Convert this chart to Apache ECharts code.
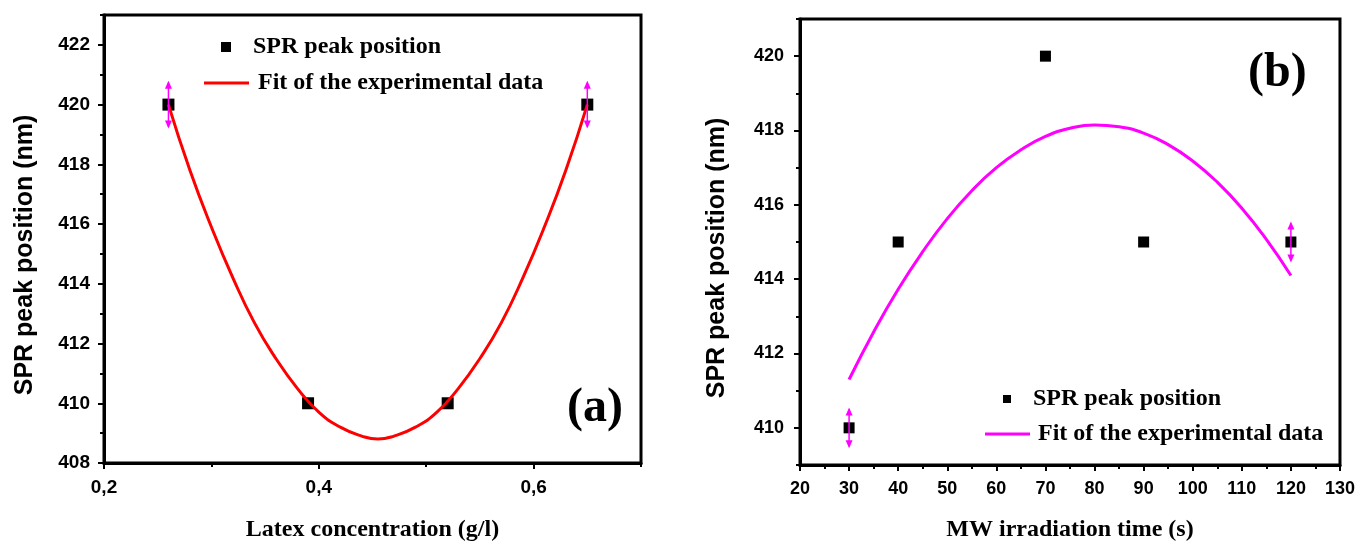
<!DOCTYPE html>
<html>
<head>
<meta charset="utf-8">
<script src="https://cdn.jsdelivr.net/npm/echarts@6/dist/echarts.min.js"></script>
<style>
html,body{margin:0;padding:0;background:#fff;}
#c{width:1358px;height:547px;}
</style>
</head>
<body>
<div id="c"></div>
<script>
// ---- Panel (a): Latex concentration ----
const latexX = [0.26, 0.39, 0.52, 0.65];
const latexY = [420, 410, 410, 420];
const latexErr = [0.8, 0, 0, 0.8];
const latexFitX = [0.26, 0.28, 0.30, 0.32, 0.34, 0.36, 0.38, 0.40, 0.42, 0.44, 0.455, 0.47, 0.49, 0.51, 0.53, 0.55, 0.57, 0.59, 0.61, 0.63, 0.65];
const latexFitY = [420.0, 417.8, 415.9, 414.2, 412.7, 411.5, 410.5, 409.7, 409.2, 408.9, 408.8, 408.9, 409.2, 409.7, 410.5, 411.5, 412.7, 414.2, 415.9, 417.8, 420.0];
const latexXTicks = [0.2, 0.4, 0.6];
const latexXMinor = [0.3, 0.5, 0.7];
const latexYTicks = [408, 410, 412, 414, 416, 418, 420, 422];
const latexYMinor = [409, 411, 413, 415, 417, 419, 421, 423];

// ---- Panel (b): MW irradiation time ----
const mwX = [30, 40, 70, 90, 120];
const mwY = [410, 415, 420, 415, 415];
const mwErr = [0.55, 0, 0, 0, 0.55];
const mwFitX = [30, 35, 40, 45, 50, 55, 60, 65, 70, 75, 80, 85, 90, 95, 100, 105, 110, 115, 120];
const mwFitY = [411.30, 412.58, 413.73, 414.74, 415.63, 416.38, 417.00, 417.48, 417.84, 418.06, 418.15, 418.10, 417.93, 417.62, 417.18, 416.61, 415.91, 415.07, 414.10];
const mwXTicks = [20, 30, 40, 50, 60, 70, 80, 90, 100, 110, 120, 130];
const mwXMinor = [25, 35, 45, 55, 65, 75, 85, 95, 105, 115, 125];
const mwYTicks = [410, 412, 414, 416, 418, 420];
const mwYMinor = [409, 411, 413, 415, 417, 419, 421];

const labelText = ["SPR peak position", "Fit of the experimental data"];
const axisTitles = ["Latex concentration (g/l)", "MW irradiation time (s)", "SPR peak position (nm)"];
const panelTags = ["(a)", "(b)"];

const zip = (a, b) => a.map((v, i) => [v, b[i]]);
const zip3 = (a, b, c) => a.map((v, i) => [v, b[i], c[i]]);

const SANS = 'Liberation Sans';
const SERIF = 'Liberation Serif';

function majorAxis(o) {
  return Object.assign({
    type: 'value',
    axisLine: { show: true, onZero: false, lineStyle: { color: '#000', width: 3 } },
    axisTick: { show: true, inside: false, customValues: o.ticks, length: 6, lineStyle: { color: '#000', width: 2 } },
    axisLabel: { customValues: o.ticks, color: '#000', fontFamily: SANS, fontWeight: 'bold', fontSize: o.fs, margin: o.margin, formatter: o.fmt },
    splitLine: { show: false },
    nameLocation: 'middle'
  }, o.extra);
}
function minorAxis(o) {
  return Object.assign({
    type: 'value',
    axisLine: { show: false, onZero: false },
    axisTick: { show: true, inside: false, customValues: o.ticks, length: 4, lineStyle: { color: '#000', width: 2 } },
    axisLabel: { show: false },
    splitLine: { show: false }
  }, o.extra);
}

function errBarItem(params, api) {
  const x = api.value(0), y = api.value(1), e = api.value(2);
  if (!e) return null;
  const t = api.coord([x, y + e]);
  const b = api.coord([x, y - e]);
  const w = 3.5, h = 8;
  return {
    type: 'group',
    children: [
      { type: 'line', shape: { x1: t[0], y1: t[1] + 2, x2: b[0], y2: b[1] - 2 }, style: { stroke: '#ff00ff', lineWidth: 1.5 } },
      { type: 'polygon', shape: { points: [[t[0], t[1]], [t[0] - w, t[1] + h], [t[0] + w, t[1] + h]] }, style: { fill: '#ff00ff' } },
      { type: 'polygon', shape: { points: [[b[0], b[1]], [b[0] - w, b[1] - h], [b[0] + w, b[1] - h]] }, style: { fill: '#ff00ff' } }
    ]
  };
}

const xTitleStyle = { color: '#000', fontFamily: SERIF, fontWeight: 'bold', fontSize: 24 };
const yTitleStyle = { color: '#000', fontFamily: SANS, fontWeight: 'bold', fontSize: 25, padding: [0, 32, 0, 0] };
const legendText = { color: '#000', fontFamily: SERIF, fontWeight: 'bold', fontSize: 24 };

const chart = echarts.init(document.getElementById('c'), null, { renderer: 'canvas' });
chart.setOption({
  backgroundColor: '#fff',
  animation: false,
  grid: [
    { left: 104, top: 15, width: 537, height: 452, show: true, borderColor: '#000', borderWidth: 3, backgroundColor: 'transparent' },
    { left: 800, top: 19, width: 543, height: 448, show: true, borderColor: '#000', borderWidth: 3, backgroundColor: 'transparent' }
  ],
  xAxis: [
    majorAxis({ ticks: latexXTicks, fs: 19, margin: 15, fmt: v => v.toFixed(1).replace('.', ','),
      extra: { gridIndex: 0, min: 0.2, max: 0.7, position: 'bottom', name: axisTitles[0], nameGap: 55, nameTextStyle: xTitleStyle } }),
    minorAxis({ ticks: latexXMinor, extra: { gridIndex: 0, min: 0.2, max: 0.7, position: 'bottom' } }),
    majorAxis({ ticks: mwXTicks, fs: 18, margin: 15, fmt: v => String(v),
      extra: { gridIndex: 1, min: 20, max: 130, position: 'bottom', name: axisTitles[1], nameGap: 53, nameTextStyle: xTitleStyle } }),
    minorAxis({ ticks: mwXMinor, extra: { gridIndex: 1, min: 20, max: 130, position: 'bottom' } })
  ],
  yAxis: [
    majorAxis({ ticks: latexYTicks, fs: 19, margin: 14, fmt: v => String(v),
      extra: { gridIndex: 0, min: 408, max: 423, position: 'left', name: axisTitles[2], nameGap: 66, nameTextStyle: yTitleStyle } }),
    minorAxis({ ticks: latexYMinor, extra: { gridIndex: 0, min: 408, max: 423, position: 'left' } }),
    majorAxis({ ticks: mwYTicks, fs: 18, margin: 16, fmt: v => String(v),
      extra: { gridIndex: 1, min: 409, max: 421, position: 'left', name: axisTitles[2], nameGap: 70, nameTextStyle: yTitleStyle } }),
    minorAxis({ ticks: mwYMinor, extra: { gridIndex: 1, min: 409, max: 421, position: 'left' } })
  ],
  legend: [
    { data: [{ name: 'ptsA', icon: 'rect' }], formatter: () => labelText[0], left: 221, top: 35, padding: 0, itemWidth: 10, itemHeight: 10, selectedMode: false,
      textStyle: Object.assign({ padding: [0, 0, 0, 17] }, legendText) },
    { data: [{ name: 'fitA', icon: 'rect' }], formatter: () => labelText[1], left: 204, top: 71, padding: 0, itemWidth: 45, itemHeight: 3, selectedMode: false,
      textStyle: Object.assign({ padding: [0, 0, 0, 4] }, legendText) },
    { data: [{ name: 'ptsB', icon: 'rect' }], formatter: () => labelText[0], left: 1003, top: 387, padding: 0, itemWidth: 8, itemHeight: 8, selectedMode: false,
      textStyle: Object.assign({ padding: [0, 0, 0, 17] }, legendText) },
    { data: [{ name: 'fitB', icon: 'rect' }], formatter: () => labelText[1], left: 985, top: 422, padding: 0, itemWidth: 45, itemHeight: 3, selectedMode: false,
      textStyle: Object.assign({ padding: [0, 0, 0, 3] }, legendText) }
  ],
  graphic: [
    { type: 'text', left: 567, top: 385, z: 10, style: { text: panelTags[0], fill: '#000', font: 'bold 48px ' + SERIF } },
    { type: 'text', left: 1248, top: 50, z: 10, style: { text: panelTags[1], fill: '#000', font: 'bold 48px ' + SERIF } }
  ],
  series: [
    { name: 'ptsA', type: 'scatter', xAxisIndex: 0, yAxisIndex: 0, data: zip(latexX, latexY), symbol: 'rect', symbolSize: 12,
      itemStyle: { color: '#000', opacity: 1 }, z: 2 },
    { name: 'fitA', type: 'line', xAxisIndex: 0, yAxisIndex: 0, data: zip(latexFitX, latexFitY), smooth: true, symbol: 'none', showSymbol: false,
      lineStyle: { color: '#ff0000', width: 3 }, itemStyle: { color: '#ff0000' }, z: 3 },
    { name: 'errA', type: 'custom', xAxisIndex: 0, yAxisIndex: 0, data: zip3(latexX, latexY, latexErr), renderItem: errBarItem,
      encode: { x: 0, y: 1 }, z: 4 },
    { name: 'ptsB', type: 'scatter', xAxisIndex: 2, yAxisIndex: 2, data: zip(mwX, mwY), symbol: 'rect', symbolSize: 11,
      itemStyle: { color: '#000', opacity: 1 }, z: 2 },
    { name: 'fitB', type: 'line', xAxisIndex: 2, yAxisIndex: 2, data: zip(mwFitX, mwFitY), smooth: true, symbol: 'none', showSymbol: false,
      lineStyle: { color: '#ff00ff', width: 3 }, itemStyle: { color: '#ff00ff' }, z: 3 },
    { name: 'errB', type: 'custom', xAxisIndex: 2, yAxisIndex: 2, data: zip3(mwX, mwY, mwErr), renderItem: errBarItem,
      encode: { x: 0, y: 1 }, z: 4 }
  ]
});
</script>
</body>
</html>
